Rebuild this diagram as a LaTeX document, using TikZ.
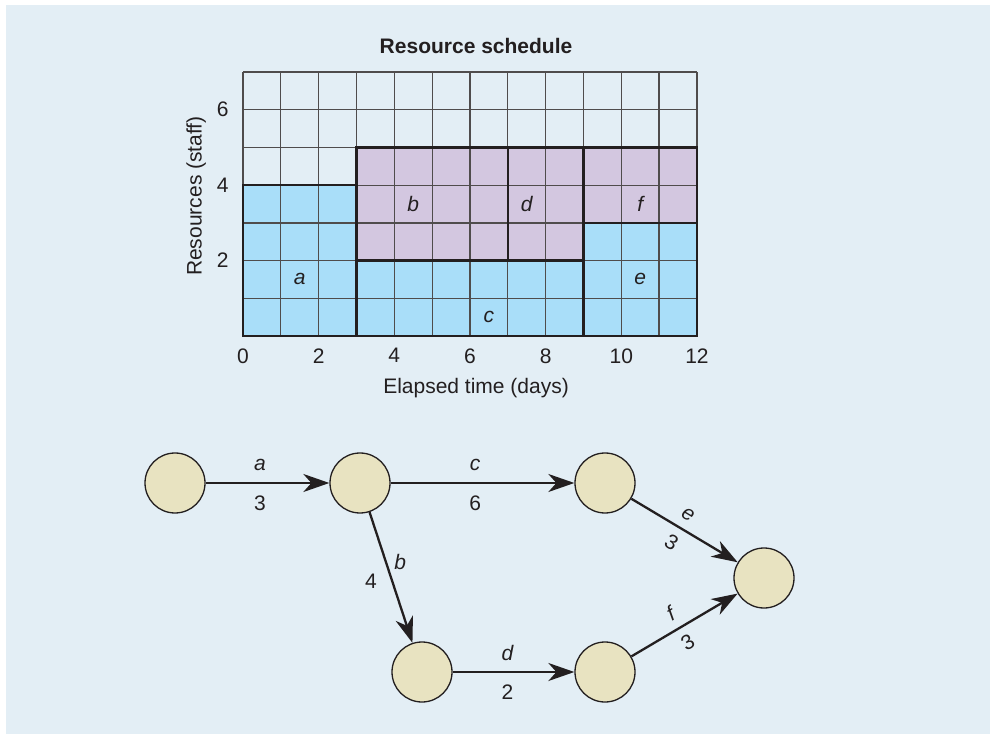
\documentclass[tikz,border=0pt]{standalone}
\usepackage{fontspec}
\setmainfont{Liberation Sans}
\usetikzlibrary{arrows.meta, positioning}
\definecolor{hinter}{HTML}{E3EEF5}
\definecolor{blau}{HTML}{A9DEF9}
\definecolor{lila}{HTML}{D3C7E0}
\definecolor{knoten}{HTML}{E8E3C1}
\definecolor{tinte}{HTML}{231F20}

\begin{document}
\begin{tikzpicture}[x=1pt, y=1pt,
    every node/.style={font=\fontsize{21}{25}\selectfont, text=tinte},
    ereignis/.style={circle, draw=tinte, line width=1.3pt, fill=knoten,
                     minimum size=60pt, inner sep=0pt},
    pfeil/.style={-{Stealth[length=26pt, width=18pt, inset=8pt]},
                  line width=2.3pt, draw=tinte},
    block/.style={draw=tinte, line width=2.6pt}]

  \useasboundingbox (0,0) rectangle (990,734);
  \fill[hinter] (6,0) rectangle (990,729);

  % Resource schedule
  \begin{scope}[shift={(243,398)}, x=37.83pt, y=37.71pt]
    \fill[blau] (0,0) rectangle (3,4) (3,0) rectangle (9,2) (9,0) rectangle (12,3);
    \fill[lila] (3,2) rectangle (9,5) (9,3) rectangle (12,5);
    \draw[tinte!80, line width=1.3pt] (0,0) grid[step=1] (12,7);
    \draw[block] (0,0) rectangle (3,4);
    \draw[block] (3,0) rectangle (9,2);
    \draw[block] (3,2) rectangle (7,5);
    \draw[block] (7,2) rectangle (9,5);
    \draw[block] (9,0) rectangle (12,3);
    \draw[block] (9,3) rectangle (12,5);
    \node at (1.5,1.5) {\itshape a};
    \node at (4.5,3.5) {\itshape b};
    \node at (6.5,0.5) {\itshape c};
    \node at (7.5,3.5) {\itshape d};
    \node at (10.5,1.5) {\itshape e};
    \node at (10.5,3.5) {\itshape f};
    \foreach \t in {0,2,...,12}
      \node[below=9pt] at (\t,0) {\t};
    \foreach \r in {2,4,6}
      \node[left=11pt] at (0,\r) {\r};
    \node[font=\fontsize{21}{25}\selectfont\bfseries] (titel) at (6.16,7.69) {Resource schedule};
    \node (zeit) at (6.16,-1.37) {Elapsed time (days)};
    \node[rotate=90] (staff) at (-1.24,3.71) {Resources (staff)};
  \end{scope}

  % Network
  \node[ereignis] (n1) at (175,251) {};
  \node[ereignis] (n2) at (360,251) {};
  \node[ereignis] (n3) at (605,251) {};
  \node[ereignis] (n4) at (764,156) {};
  \node[ereignis] (n5) at (422,62) {};
  \node[ereignis] (n6) at (605,62) {};

  \draw[pfeil] (n1) -- node[pos=0.44, above=8pt]{\itshape a} node[pos=0.44, below=8pt]{3} (n2);
  \draw[pfeil] (n2) -- node[pos=0.46, above=8pt]{\itshape c} node[pos=0.46, below=8pt]{6} (n3);
  \draw[pfeil] (n2) -- node[pos=0.38, right=4pt]{\itshape b} node[pos=0.53, left=11pt]{4} (n5);
  \draw[pfeil] (n5) -- node[pos=0.45, above=7pt]{\itshape d} node[pos=0.45, below=8pt]{2} (n6);
  \draw[pfeil] (n3) -- node[pos=0.46, sloped, above=5pt]{\itshape e} node[pos=0.46, sloped, below=5pt]{3} (n4);
  \draw[pfeil] (n6) -- node[pos=0.45, sloped, above=5pt]{\itshape f} node[pos=0.45, sloped, below=5pt]{3} (n4);
\end{tikzpicture}
\end{document}
